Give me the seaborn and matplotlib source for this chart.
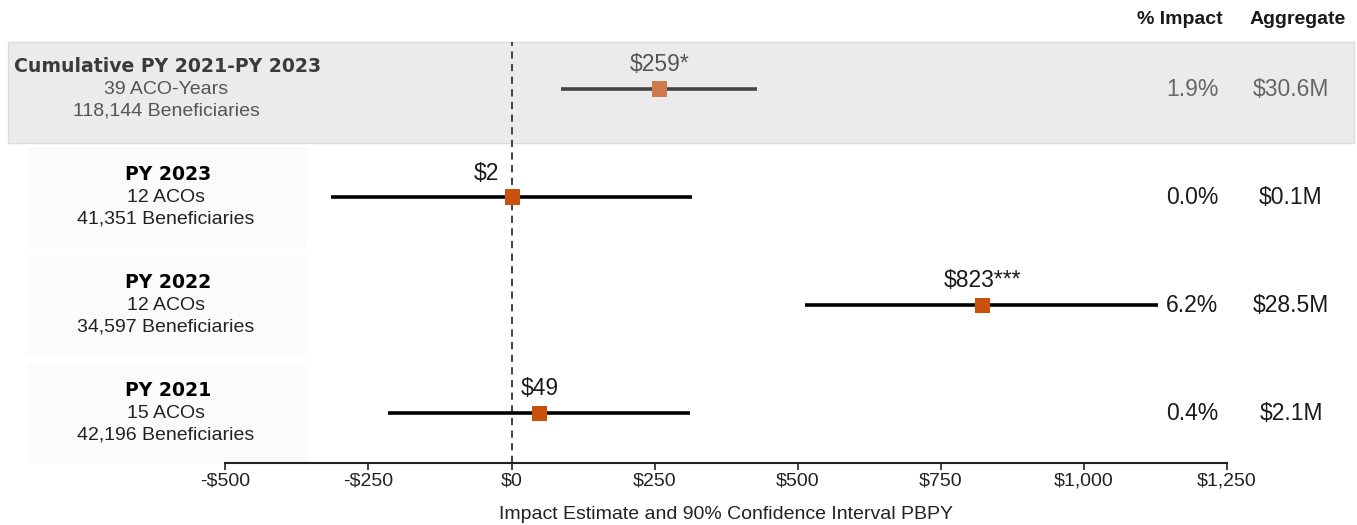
import pandas as pd
import matplotlib.pyplot as plt
import seaborn as sns
from matplotlib.patches import Rectangle
from matplotlib.transforms import blended_transform_factory
from matplotlib.ticker import FuncFormatter

# --- Data ---
row_titles = ["Cumulative PY 2021-PY 2023", "PY 2023", "PY 2022", "PY 2021"]
row_units = ["39 ACO-Years", "12 ACOs", "12 ACOs", "15 ACOs"]
row_benes = ["118,144 Beneficiaries", "41,351 Beneficiaries",
             "34,597 Beneficiaries", "42,196 Beneficiaries"]
estimates = [259, 2, 823, 49]
ci_low = [86, -315, 513, -216]
ci_high = [429, 316, 1130, 311]
est_labels = ["$259*", "$2", "$823***", "$49"]
pct_impact = ["1.9%", "0.0%", "6.2%", "0.4%"]
aggregate = ["$30.6M", "$0.1M", "$28.5M", "$2.1M"]
x_ticks = [-500, -250, 0, 250, 500, 750, 1000, 1250]

df = pd.DataFrame({
    "row": list(range(len(row_titles))),
    "title": row_titles,
    "estimate": estimates,
    "low": ci_low,
    "high": ci_high,
})

# --- Style ---
sns.set_style("white")
plt.rcParams['font.family'] = ['Liberation Sans', 'DejaVu Sans']

W, H = 1357, 525
fig = plt.figure(figsize=(W / 100, H / 100), dpi=100)
ax = fig.add_axes([225.4 / W, 1 - 463 / H, (1227 - 225.4) / W, (463 - 42) / H])
ax.patch.set_alpha(0)

ax.set_xlim(-500, 1250)
ax.set_ylim(3.46, -0.435)

tr = blended_transform_factory(fig.transFigure, ax.transData)

# cumulative highlight band across the whole figure
ax.add_patch(Rectangle((8 / W, -0.435), (1354 - 8) / W, 0.935, transform=tr,
                       facecolor="#ebebeb", edgecolor="#dcdcdc", lw=1,
                       clip_on=False, zorder=0))
# faint label panels for the single-year rows
for r in df["row"][1:]:
    ax.add_patch(Rectangle((28 / W, r - 0.46), (307 - 28) / W, 0.92, transform=tr,
                           facecolor="#fbfbfb", edgecolor="none",
                           clip_on=False, zorder=0))

# zero reference line
ax.axvline(0, color="#333333", lw=1.3, ls=(0, (4, 3)), zorder=1)

# confidence intervals
line_colors = ["#444444", "black", "black", "black"]
ax.hlines(df["row"], df["low"], df["high"], colors=line_colors, lw=2.6, zorder=2)

# point estimates
marker_colors = ["#cf7a48", "#c9510c", "#c9510c", "#c9510c"]
sns.scatterplot(data=df, x="estimate", y="row", hue="title", palette=marker_colors,
                marker="s", s=120, linewidth=0, legend=False, zorder=3, ax=ax)

# value labels
for i, row in df.iterrows():
    col = "#555555" if i == 0 else "#1a1a1a"
    if est_labels[i] == "$2":
        ax.annotate(est_labels[i], (row["estimate"], row["row"]), xytext=(-14, 24),
                    textcoords="offset pixels", ha="right", va="center",
                    fontsize=16.5, color=col)
    else:
        ax.annotate(est_labels[i], (row["estimate"], row["row"]), xytext=(0, 25),
                    textcoords="offset pixels", ha="center", va="center",
                    fontsize=16.5, color=col)

# row labels on the left
for i, r in enumerate(df["row"]):
    col_t = "#3a3a3a" if i == 0 else "black"
    col_s = "#555555" if i == 0 else "#222222"
    ax.text(168 / W, r - 0.21, row_titles[i], transform=tr, ha="center", va="center",
            fontsize=13.6, fontweight="bold", family="DejaVu Sans", color=col_t)
    ax.text(166 / W, r, row_units[i], transform=tr, ha="center", va="center",
            fontsize=14, color=col_s)
    ax.text(166 / W, r + 0.2, row_benes[i], transform=tr, ha="center", va="center",
            fontsize=14, color=col_s)

# right-hand columns
fig.text(1180 / W, 1 - 20 / H, "% Impact", ha="center", va="center",
         fontsize=14, fontweight="bold", color="#1a1a1a")
fig.text(1298 / W, 1 - 20 / H, "Aggregate", ha="center", va="center",
         fontsize=14, fontweight="bold", color="#1a1a1a")
for i, r in enumerate(df["row"]):
    col = "#666666" if i == 0 else "#1a1a1a"
    ax.text(1192 / W, r, pct_impact[i], transform=tr, ha="center", va="center",
            fontsize=16.5, color=col)
    ax.text(1291 / W, r, aggregate[i], transform=tr, ha="center", va="center",
            fontsize=16.5, color=col)

# axes styling
for side in ["top", "left", "right"]:
    ax.spines[side].set_visible(False)
ax.spines["bottom"].set_color("#222222")
ax.spines["bottom"].set_linewidth(1.5)
ax.set_yticks([])
ax.set_xticks(x_ticks)
ax.xaxis.set_major_formatter(FuncFormatter(
    lambda v, pos: f"-${abs(v):,.0f}" if v < 0 else f"${v:,.0f}"))
ax.tick_params(axis="x", direction="out", length=5, width=1.2, color="#222222",
               labelsize=14, labelcolor="#222222", pad=2, bottom=True)
ax.set_xlabel("Impact Estimate and 90% Confidence Interval PBPY", fontsize=14,
              color="#222222", labelpad=12)
ax.set_ylabel("")

plt.savefig("out.png", dpi=100)
plt.close(fig)
